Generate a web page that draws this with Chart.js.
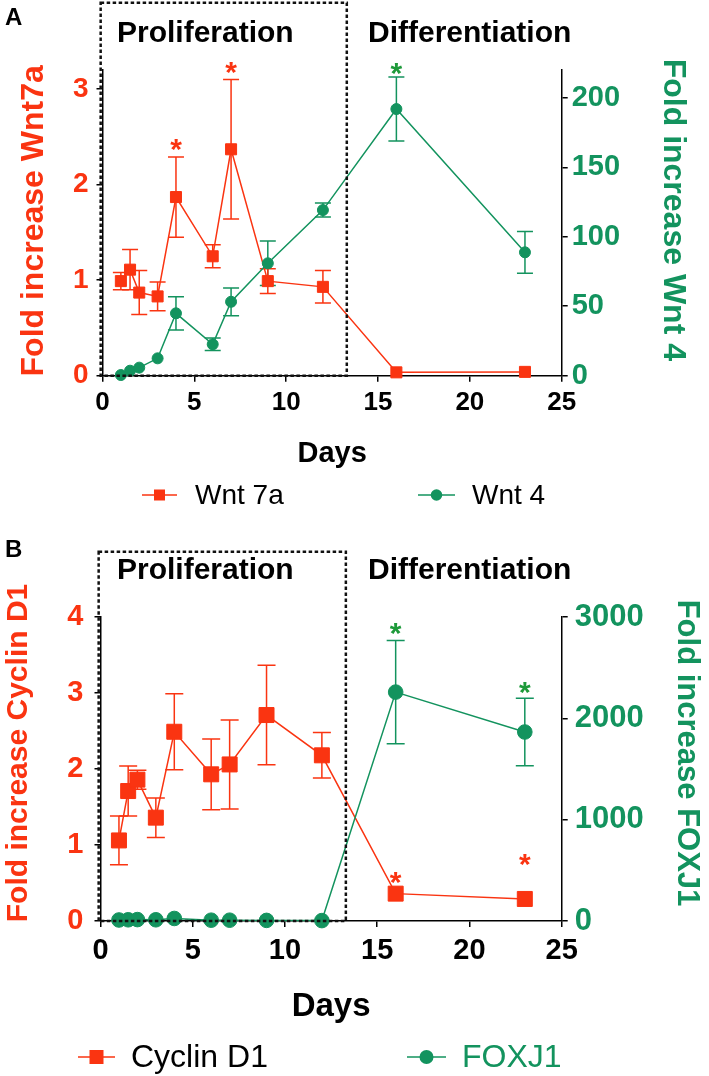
<!DOCTYPE html>
<html>
<head>
<meta charset="utf-8">
<script src="https://cdn.jsdelivr.net/npm/chart.js@4/dist/chart.umd.min.js"></script>
<style>
  html, body { margin: 0; padding: 0; background: #fff; }
  #wrap { position: relative; width: 709px; height: 1076px; overflow: hidden; }
  canvas { position: absolute; left: 0; }
</style>
</head>
<body>
<div id="wrap">
  <canvas id="chartA" width="709" height="520" style="top:0"></canvas>
  <canvas id="chartB" width="709" height="556" style="top:520px"></canvas>
</div>
<script>
/* shared */
var RED = '#fa3411', GREEN = '#13935e', STAR_GREEN = '#1e9a3a';
var FONT = "'Liberation Sans', Arial, Helvetica, sans-serif";

var days = [1, 1.5, 2, 3, 4, 6, 7, 9, 12, 16, 23];
var dayTicks = [0, 5, 10, 15, 20, 25];
var boxDays = [-0.1, 13.3];

/* panel A: Wnt7a (left axis) and Wnt 4 (right axis) */
var wnt7a    = [0.99, 1.11, 0.87, 0.83, 1.87, 1.25, 2.37, 0.99, 0.93, 0.035, 0.04];
var wnt7aErr = [0.09, 0.21, 0.23, 0.15, 0.42, 0.12, 0.73, 0.13, 0.17, 0, 0];
var wnt4     = [0.5, 3.6, 5.8, 12.5, 44.9, 22.6, 53.2, 80.9, 119.2, 191.9, 88.8];
var wnt4Err  = [0, 0, 0, 0, 12, 4.5, 10, 16, 5, 23, 15];
var wnt7aTicks = [0, 1, 2, 3];
var wnt4Ticks  = [0, 50, 100, 150, 200];
var wnt7aStarDays = [4, 7],  wnt7aStarLevels = [2.44, 3.25];
var wnt4StarDays  = [16],    wnt4StarLevels  = [223];

/* panel B: Cyclin D1 (left axis) and FOXJ1 (right axis) */
var cyclinD1    = [1.06, 1.71, 1.86, 1.36, 2.49, 1.93, 2.06, 2.71, 2.18, 0.36, 0.29];
var cyclinD1Err = [0.32, 0.33, 0.125, 0.26, 0.5, 0.465, 0.585, 0.655, 0.3, 0, 0];
var foxj1       = [10, 12, 14, 12, 25, 8, 8, 6, 4, 2259, 1865];
var foxj1Err    = [0, 0, 0, 0, 0, 0, 0, 0, 0, 509, 332];
var cyclinTicks = [0, 1, 2, 3, 4];
var foxj1Ticks  = [0, 1000, 2000, 3000];
var cyclinStarDays = [16, 23], cyclinStarLevels = [0.605, 0.84];
var foxj1StarDays  = [16, 23], foxj1StarLevels  = [2906, 2325];

function pts(vals) {
  return days.map(function (d, i) { return { x: d, y: vals[i] }; });
}

function drawStar(ctx, x, y, size, color) {
  ctx.save();
  ctx.fillStyle = color;
  ctx.font = 'bold ' + size + 'px ' + FONT;
  ctx.textAlign = 'center';
  ctx.textBaseline = 'alphabetic';
  ctx.fillText('*', x, y + size * 0.56);
  ctx.restore();
}

function drawRotated(ctx, text, x, y, angle, size, color) {
  ctx.save();
  ctx.translate(x, y);
  ctx.rotate(angle);
  ctx.fillStyle = color;
  ctx.font = 'bold ' + size + 'px ' + FONT;
  ctx.textAlign = 'center';
  ctx.textBaseline = 'alphabetic';
  ctx.fillText(text, 0, 0);
  ctx.restore();
}

function panelPlugin(p) {
  return {
    id: 'panel' + p.letter,
    beforeDatasetsDraw: function (chart) {
      var ctx = chart.ctx, xs = chart.scales.x;
      chart.data.datasets.forEach(function (ds) {
        var ys = chart.scales[ds.yAxisID];
        ctx.save();
        ctx.strokeStyle = ds.borderColor;
        ctx.lineWidth = 1.5;
        ds.data.forEach(function (pt, i) {
          var e = ds.errors[i];
          if (!e) return;
          var px = xs.getPixelForValue(pt.x);
          var top = ys.getPixelForValue(pt.y + e), bot = ys.getPixelForValue(pt.y - e);
          ctx.beginPath();
          ctx.moveTo(px, top); ctx.lineTo(px, bot);
          ctx.moveTo(px - p.cap, top); ctx.lineTo(px + p.cap, top);
          ctx.moveTo(px - p.cap, bot); ctx.lineTo(px + p.cap, bot);
          ctx.stroke();
        });
        ctx.restore();
      });
    },
    afterDraw: function (chart) {
      var ctx = chart.ctx, xs = chart.scales.x, area = chart.chartArea;

      // dashed proliferation box
      ctx.save();
      ctx.strokeStyle = '#111';
      ctx.lineWidth = 2.5;
      ctx.setLineDash([3.5, 2.5]);
      var bx1 = xs.getPixelForValue(boxDays[0]), bx2 = xs.getPixelForValue(boxDays[1]);
      ctx.strokeRect(bx1, p.boxTop, bx2 - bx1, area.bottom - p.boxTop);
      ctx.restore();

      // asterisks
      p.stars.forEach(function (s) {
        var ys = chart.scales[s.axis];
        s.days.forEach(function (d, i) {
          drawStar(ctx, xs.getPixelForValue(d), ys.getPixelForValue(s.levels[i]), p.starSize, s.color);
        });
      });

      // panel letter and phase titles
      ctx.save();
      ctx.fillStyle = '#000';
      ctx.textBaseline = 'alphabetic';
      ctx.textAlign = 'left';
      ctx.font = 'bold 24px ' + FONT;
      ctx.fillText(p.letter, 5, p.letterY);
      ctx.font = 'bold 30px ' + FONT;
      ctx.fillText('Proliferation', 117, p.phaseY);
      ctx.fillText('Differentiation', 368, p.phaseY);
      ctx.textAlign = 'center';
      ctx.textBaseline = 'middle';
      ctx.font = 'bold ' + p.daysSize + 'px ' + FONT;
      ctx.fillText('Days', (area.left + area.right) / 2, p.daysY);
      ctx.restore();

      // axis titles
      drawRotated(ctx, p.leftTitle, p.leftTitleX, (area.top + area.bottom) / 2 + p.leftTitleDy, -Math.PI / 2, p.leftTitleSize, RED);
      drawRotated(ctx, p.rightTitle, p.rightTitleX, (area.top + area.bottom) / 2 + p.rightTitleDy, Math.PI / 2, p.rightTitleSize, GREEN);

      // legend
      ctx.save();
      p.legend.forEach(function (it) {
        ctx.strokeStyle = it.color;
        ctx.fillStyle = it.color;
        ctx.lineWidth = 1.5;
        ctx.beginPath();
        ctx.moveTo(it.x1, p.legendY); ctx.lineTo(it.x2, p.legendY);
        ctx.stroke();
        var mx = (it.x1 + it.x2) / 2;
        if (it.shape === 'rect') {
          ctx.fillRect(mx - it.size / 2, p.legendY - it.size / 2, it.size, it.size);
        } else {
          ctx.beginPath();
          ctx.arc(mx, p.legendY, it.size / 2, 0, Math.PI * 2);
          ctx.fill();
        }
        ctx.fillStyle = it.textColor;
        ctx.font = p.legendSize + 'px ' + FONT;
        ctx.textAlign = 'left';
        ctx.textBaseline = 'middle';
        ctx.fillText(it.label, it.tx, p.legendY + 1);
      });
      ctx.restore();
    }
  };
}

function plainLabel(v) { return String(v); }

function makePanel(canvasId, p) {
  var tickFont = function (size) { return { family: FONT, size: size, weight: 'bold' }; };
  return new Chart(document.getElementById(canvasId), {
    type: 'line',
    data: {
      datasets: [
        {
          label: p.rightName, data: pts(p.rightVals), errors: p.rightErr, yAxisID: 'y1', order: 0,
          borderColor: GREEN, backgroundColor: GREEN, borderWidth: 1.5,
          pointStyle: 'circle', pointRadius: p.circleR, pointBorderWidth: 1, pointHoverRadius: p.circleR,
          tension: 0, clip: false
        },
        {
          label: p.leftName, data: pts(p.leftVals), errors: p.leftErr, yAxisID: 'y', order: 1,
          borderColor: RED, backgroundColor: RED, borderWidth: 1.5,
          pointStyle: 'rect', pointRadius: p.rectR, pointBorderWidth: 1, pointHoverRadius: p.rectR,
          tension: 0, clip: false
        }
      ]
    },
    options: {
      responsive: false,
      animation: false,
      devicePixelRatio: 1,
      layout: { padding: { top: p.padTop, left: 0, right: 0, bottom: 0 } },
      plugins: { legend: { display: false }, tooltip: { enabled: false } },
      scales: {
        x: {
          type: 'linear', min: 0, max: 25,
          afterBuildTicks: function (s) { s.ticks = dayTicks.map(function (v) { return { value: v }; }); },
          afterFit: function (s) { s.height = p.xHeight; },
          ticks: { color: '#000', font: tickFont(p.xTickSize), padding: p.xTickPad, autoSkip: false, maxRotation: 0, callback: plainLabel },
          grid: { drawOnChartArea: false, drawTicks: true, tickLength: 6, color: '#000', lineWidth: 1.5 },
          border: { display: true, color: '#000', width: 1.5 }
        },
        y: {
          type: 'linear', position: 'left', min: 0, max: p.leftMax,
          afterBuildTicks: function (s) { s.ticks = p.leftTicks.map(function (v) { return { value: v }; }); },
          afterFit: function (s) { s.width = p.yLeftWidth; },
          ticks: { color: RED, font: tickFont(p.leftTickSize), padding: p.leftTickPad, callback: plainLabel },
          grid: { drawOnChartArea: false, drawTicks: true, tickLength: 6, color: '#000', lineWidth: 1.5 },
          border: { display: true, color: '#000', width: 1.5 }
        },
        y1: {
          type: 'linear', position: 'right', min: 0, max: p.rightMax,
          afterBuildTicks: function (s) { s.ticks = p.rightTicks.map(function (v) { return { value: v }; }); },
          afterFit: function (s) { s.width = p.yRightWidth; },
          ticks: { color: GREEN, font: tickFont(p.rightTickSize), padding: p.rightTickPad, callback: plainLabel },
          grid: { drawOnChartArea: false, drawTicks: true, tickLength: 6, color: '#000', lineWidth: 1.5 },
          border: { display: true, color: '#000', width: 1.5 }
        }
      }
    },
    plugins: [panelPlugin(p)]
  });
}

makePanel('chartA', {
  letter: 'A', letterY: 25, phaseY: 42,
  leftName: 'Wnt 7a', leftVals: wnt7a, leftErr: wnt7aErr, leftTicks: wnt7aTicks, leftMax: 3.2,
  rightName: 'Wnt 4', rightVals: wnt4, rightErr: wnt4Err, rightTicks: wnt4Ticks, rightMax: 220,
  padTop: 70, xHeight: 144.3, yLeftWidth: 102.5, yRightWidth: 147.3,
  xTickSize: 26, xTickPad: 6, leftTickSize: 28, leftTickPad: 8, rightTickSize: 29, rightTickPad: 4,
  rectR: 7.8, circleR: 5.5, cap: 8, starSize: 30, boxTop: 2.7,
  stars: [
    { axis: 'y', days: wnt7aStarDays, levels: wnt7aStarLevels, color: RED },
    { axis: 'y1', days: wnt4StarDays, levels: wnt4StarLevels, color: STAR_GREEN }
  ],
  daysY: 454, daysSize: 29,
  leftTitle: 'Fold increase Wnt7a', leftTitleX: 43, leftTitleDy: -2, leftTitleSize: 32,
  rightTitle: 'Fold increase Wnt 4', rightTitleX: 664, rightTitleDy: -13, rightTitleSize: 32,
  legendY: 495, legendSize: 28,
  legend: [
    { label: 'Wnt 7a', x1: 142, x2: 177, tx: 195, shape: 'rect', size: 11, color: RED, textColor: '#000' },
    { label: 'Wnt 4', x1: 418, x2: 455, tx: 472, shape: 'circle', size: 11.5, color: GREEN, textColor: '#000' }
  ]
});

makePanel('chartB', {
  letter: 'B', letterY: 37, phaseY: 59,
  leftName: 'Cyclin D1', leftVals: cyclinD1, leftErr: cyclinD1Err, leftTicks: cyclinTicks, leftMax: 4,
  rightName: 'FOXJ1', rightVals: foxj1, rightErr: foxj1Err, rightTicks: foxj1Ticks, rightMax: 3000,
  padTop: 97, xHeight: 155, yLeftWidth: 100.5, yRightWidth: 147.3,
  xTickSize: 29, xTickPad: 7, leftTickSize: 29, leftTickPad: 11, rightTickSize: 31, rightTickPad: 7,
  rectR: 10.6, circleR: 7.3, cap: 9, starSize: 30, boxTop: 31.7,
  stars: [
    { axis: 'y', days: cyclinStarDays, levels: cyclinStarLevels, color: RED },
    { axis: 'y1', days: foxj1StarDays, levels: foxj1StarLevels, color: STAR_GREEN }
  ],
  daysY: 487, daysSize: 33,
  leftTitle: 'Fold increase Cyclin D1', leftTitleX: 26.7, leftTitleDy: -16, leftTitleSize: 30,
  rightTitle: 'Fold increase FOXJ1', rightTitleX: 678, rightTitleDy: -16, rightTitleSize: 31,
  legendY: 537, legendSize: 32,
  legend: [
    { label: 'Cyclin D1', x1: 78, x2: 115, tx: 131, shape: 'rect', size: 14, color: RED, textColor: '#000' },
    { label: 'FOXJ1', x1: 407, x2: 446, tx: 462, shape: 'circle', size: 14, color: GREEN, textColor: GREEN }
  ]
});
</script>
</body>
</html>
